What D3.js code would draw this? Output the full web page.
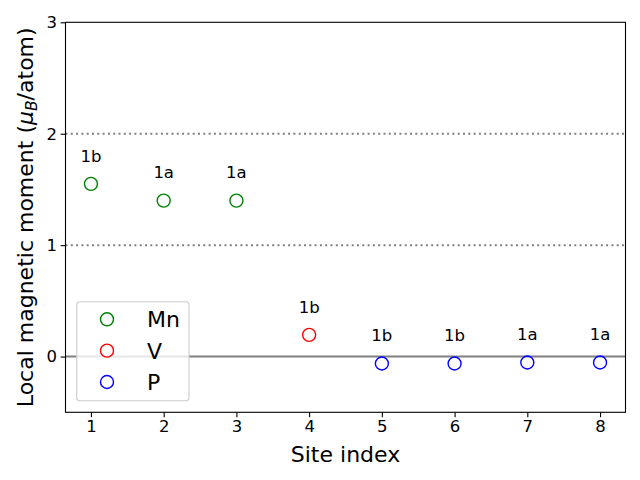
<!DOCTYPE html>
<html><head><meta charset="utf-8">
<script src="https://cdn.jsdelivr.net/npm/d3@7"></script>
<style>body{margin:0;background:#fff}svg{display:block}text{font-family:"DejaVu Sans",sans-serif}</style>
</head><body>
<svg id="c" width="640" height="480"></svg>
<script>
const siteIndex = [1, 2, 3, 4, 5, 6, 7, 8];
const elements = ["Mn", "Mn", "Mn", "V", "P", "P", "P", "P"];
const moments = [1.55, 1.40, 1.40, 0.195, -0.062, -0.062, -0.053, -0.053];
const wyckoff = ["1b", "1a", "1a", "1b", "1b", "1b", "1a", "1a"];
const legendNames = ["Mn", "V", "P"];
const legendColors = ["green", "red", "blue"];
const xTicks = [1, 2, 3, 4, 5, 6, 7, 8];
const yTicks = [0, 1, 2, 3];
const gridLevels = [1, 2];

const colorOf = d3.scaleOrdinal().domain(legendNames).range(legendColors);
const svg = d3.select("#c");
const L = 65.5, R = 625.5, T = 22.3, B = 412.3;
const x = d3.scaleLinear().domain([0.65, 8.35]).range([L, R]);
const y = d3.scaleLinear().domain([-0.5, 3]).range([B, T]);

// grid dotted lines
svg.selectAll(".grid").data(gridLevels).enter().append("line")
  .attr("x1", L).attr("x2", R).attr("y1", d => y(d)).attr("y2", d => y(d))
  .attr("stroke", "#808080").attr("stroke-width", 2).attr("stroke-dasharray", "2,3.3");
// zero line
svg.append("line").attr("x1", L).attr("x2", R).attr("y1", y(0)).attr("y2", y(0))
  .attr("stroke", "#808080").attr("stroke-width", 2);

// points
svg.selectAll(".pt").data(siteIndex).enter().append("circle")
  .attr("cx", (d) => x(d)).attr("cy", (d, i) => y(moments[i])).attr("r", 6.5)
  .attr("fill", "none").attr("stroke", (d, i) => colorOf(elements[i])).attr("stroke-width", 1.4);

// labels
svg.selectAll(".lbl").data(siteIndex).enter().append("text")
  .attr("x", d => x(d)).attr("y", (d, i) => y(moments[i] + 0.2))
  .attr("text-anchor", "middle").attr("font-size", 16.5).attr("fill", "#000")
  .text((d, i) => wyckoff[i]);

// axes
const xAxis = d3.axisBottom(x).tickValues(xTicks).tickSize(4.9).tickPadding(3.5).tickFormat(d3.format("d"));
const yAxis = d3.axisLeft(y).tickValues(yTicks).tickSize(4.9).tickPadding(3.5).tickFormat(d3.format("d"));
const gx = svg.append("g").attr("transform", `translate(0,${B})`).call(xAxis);
const gy = svg.append("g").attr("transform", `translate(${L},0)`).call(yAxis);
[gx, gy].forEach(g => {
  g.select(".domain").remove();
  g.selectAll("line").attr("stroke", "#000").attr("stroke-width", 1.1);
  g.selectAll("text").attr("font-size", 16.5).attr("fill", "#000").style("font-family", "DejaVu Sans");
});
// frame
svg.append("rect").attr("x", L).attr("y", T).attr("width", R - L).attr("height", B - T)
  .attr("fill", "none").attr("stroke", "#000").attr("stroke-width", 1.1);

// axis labels
svg.append("text").attr("x", (L + R) / 2).attr("y", 462).attr("text-anchor", "middle")
  .attr("font-size", 22).text("Site index");
const yl = svg.append("text").attr("transform", `translate(33,${(T + B) / 2}) rotate(-90)`)
  .attr("text-anchor", "middle").attr("font-size", 22);
yl.append("tspan").text("Local magnetic moment (");
yl.append("tspan").attr("font-style", "italic").text("μ");
yl.append("tspan").attr("font-style", "italic").attr("font-size", 15.5).attr("dy", 4).text("B");
yl.append("tspan").attr("dy", -4).text("/atom)");

// legend
const lg = svg.append("g");
lg.append("rect").attr("x", 76.7).attr("y", 301.7).attr("width", 112.3).attr("height", 99)
  .attr("rx", 3).attr("fill", "#fff").attr("fill-opacity", 0.8).attr("stroke", "#cccccc").attr("stroke-width", 1.1);
const rows = lg.selectAll(".row").data(legendNames).enter().append("g")
  .attr("transform", (d, i) => `translate(0,${319.3 + i * 31.35})`);
rows.append("circle").attr("cx", 107).attr("cy", 0).attr("r", 6.5).attr("fill", "none")
  .attr("stroke", d => colorOf(d)).attr("stroke-width", 1.4);
rows.append("text").attr("x", 147).attr("y", 8).attr("font-size", 22).text(d => d);
</script>
</body></html>
